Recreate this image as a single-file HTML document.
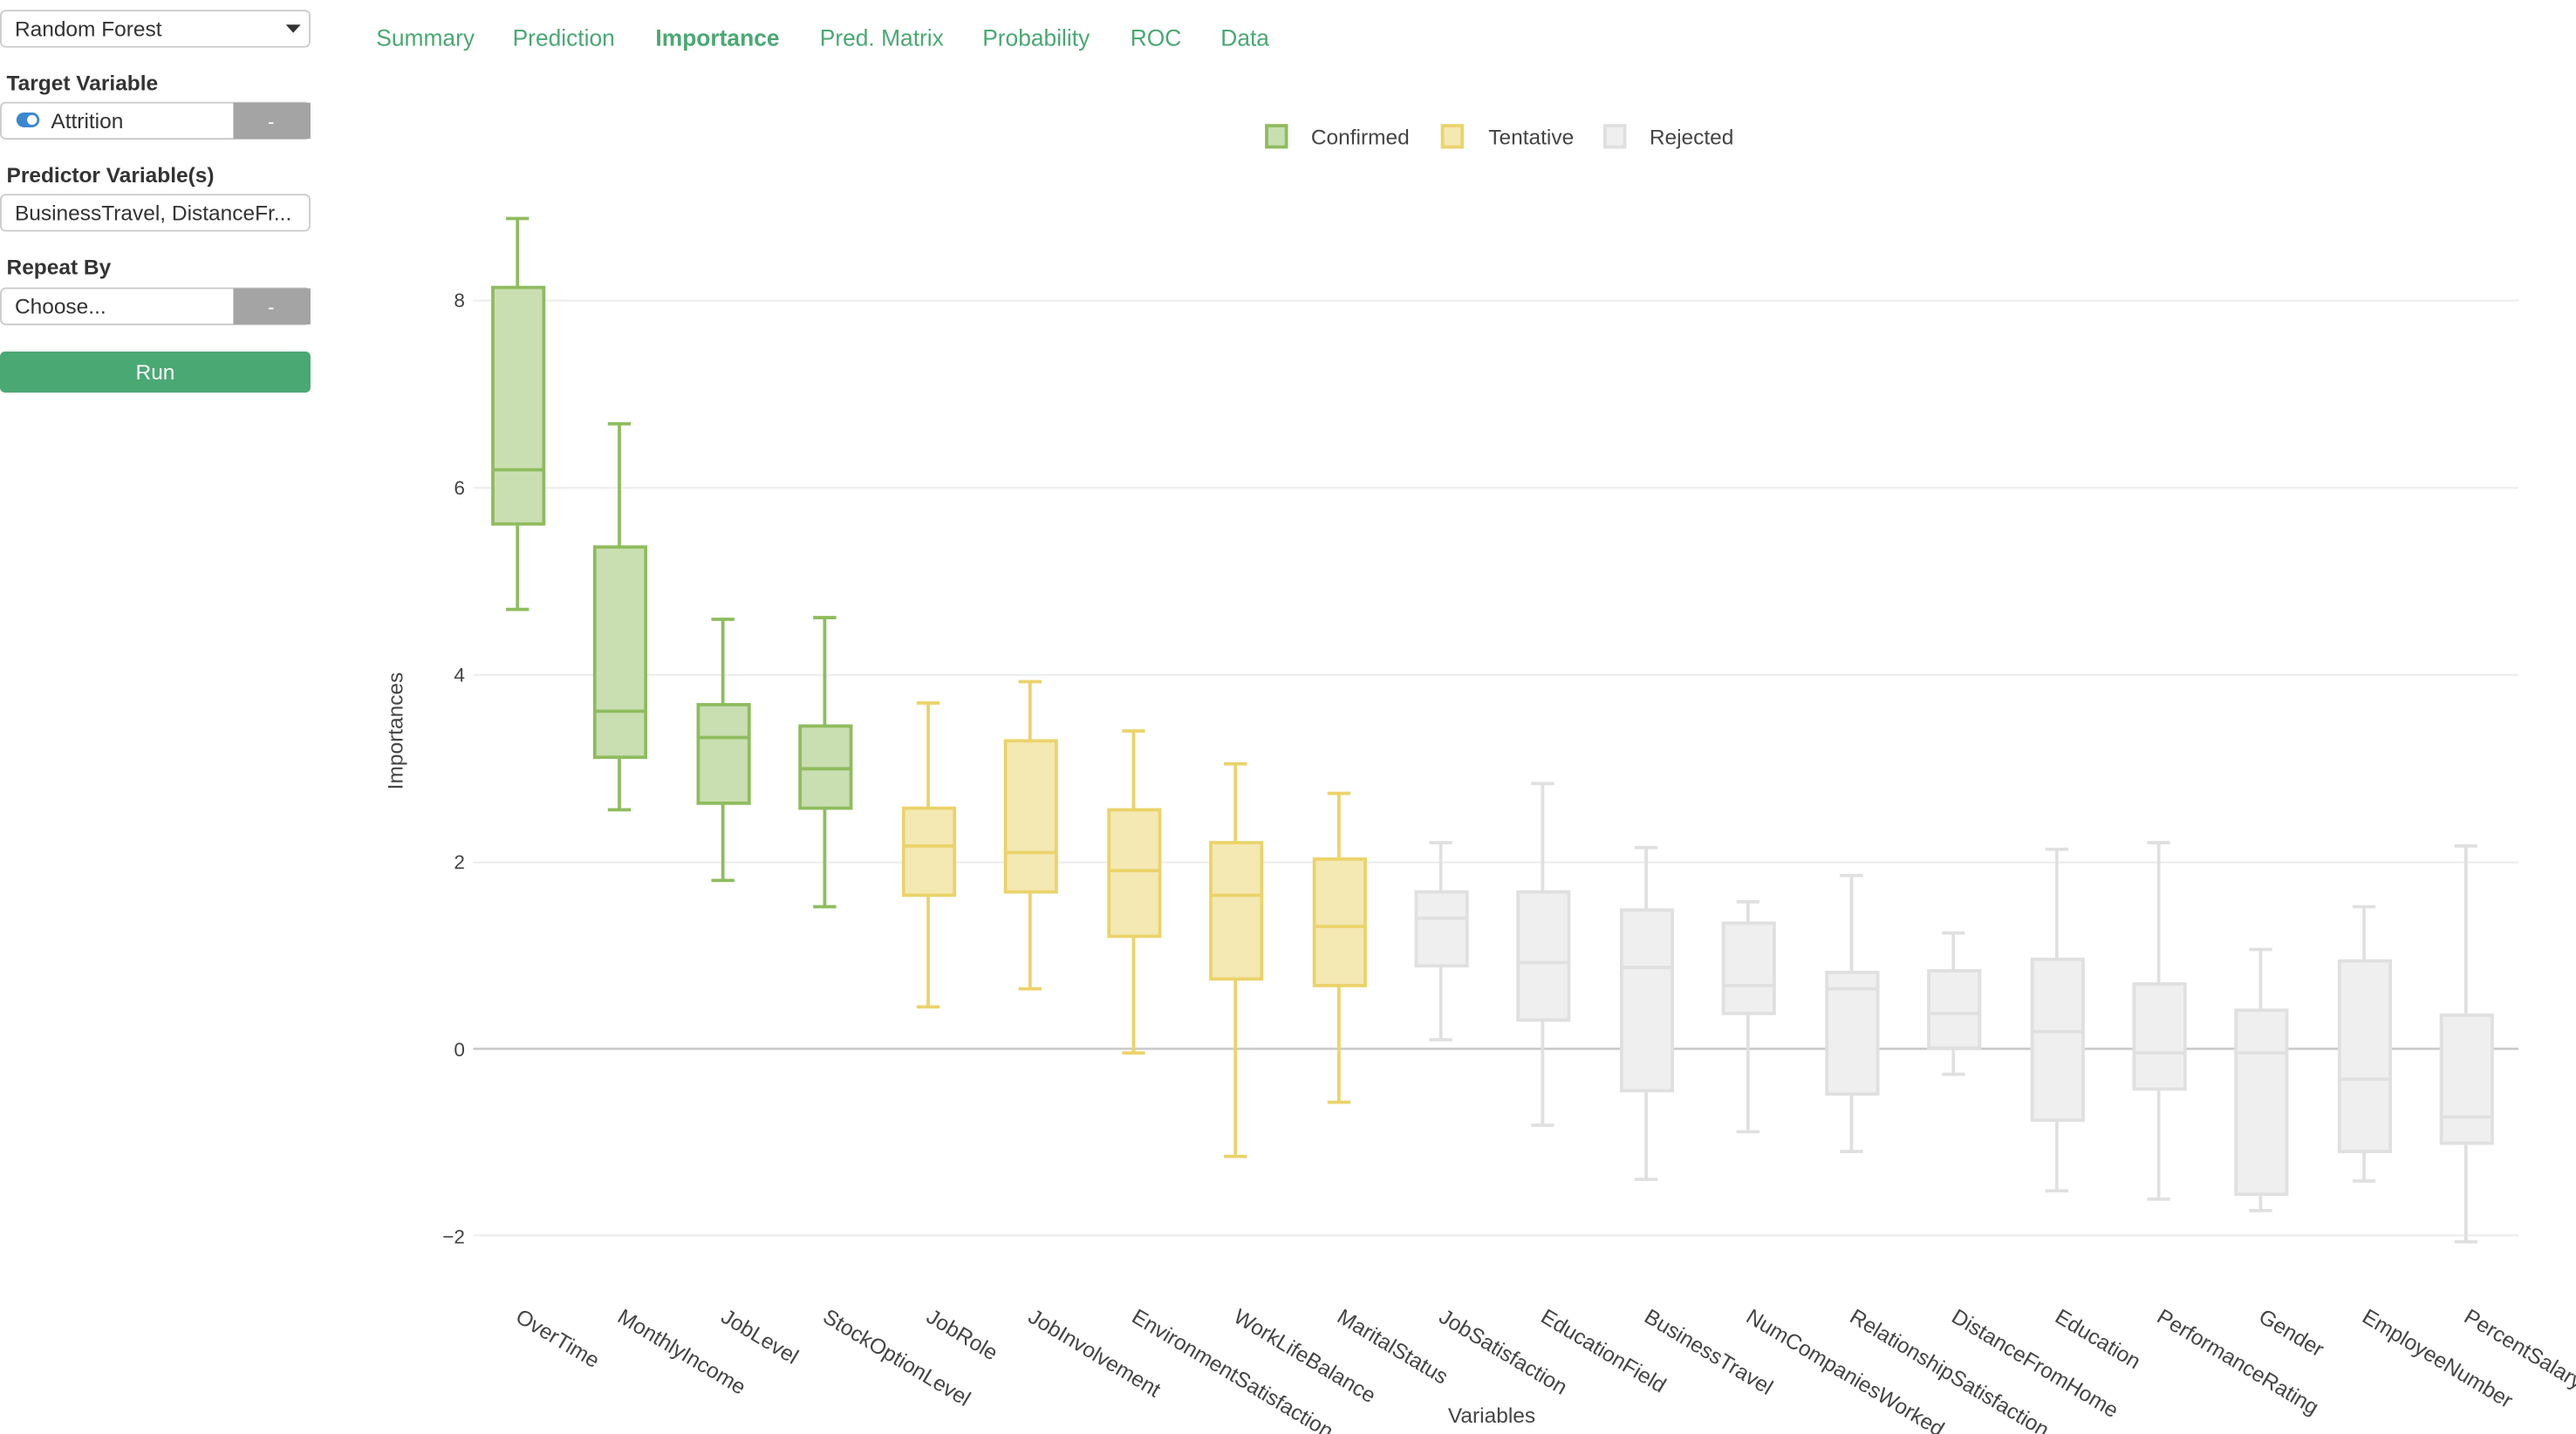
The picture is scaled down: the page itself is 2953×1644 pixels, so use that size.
<!DOCTYPE html>
<html><head><meta charset="utf-8"><style>
html,body{margin:0;padding:0;background:#fff;}
svg{display:block;}
text{font-family:"Liberation Sans",sans-serif;}
</style></head><body>
<svg width="2953" height="1644" viewBox="0 0 1568 873" preserveAspectRatio="none" xmlns="http://www.w3.org/2000/svg">
<!-- sidebar -->
<rect x="0.5" y="6.5" width="188" height="22" rx="3" fill="#fff" stroke="#ccc"/>
<text x="9" y="22" font-size="13" fill="#333">Random Forest</text>
<path d="M174 15 L183 15 L178.5 20 Z" fill="#333"/>
<text x="4" y="55" font-size="13" font-weight="bold" fill="#333">Target Variable</text>
<rect x="0.5" y="62.5" width="188" height="22" rx="3" fill="#fff" stroke="#ccc"/>
<rect x="142" y="62.5" width="47" height="22" fill="#a4a4a4"/>
<text x="165" y="78" font-size="12" fill="#fff" text-anchor="middle">-</text>
<rect x="10" y="68.5" width="14" height="9" rx="4.5" fill="#3b87d0"/>
<circle cx="19.5" cy="73" r="3" fill="#fff"/>
<text x="31" y="78" font-size="13" fill="#333">Attrition</text>
<text x="4" y="111" font-size="13" font-weight="bold" fill="#333">Predictor Variable(s)</text>
<rect x="0.5" y="118.5" width="188" height="22" rx="3" fill="#fff" stroke="#ccc"/>
<text x="9" y="134" font-size="13" fill="#333">BusinessTravel, DistanceFr...</text>
<text x="4" y="167" font-size="13" font-weight="bold" fill="#333">Repeat By</text>
<rect x="0.5" y="175.5" width="188" height="22" rx="3" fill="#fff" stroke="#ccc"/>
<rect x="142" y="175.5" width="47" height="22" fill="#a4a4a4"/>
<text x="165" y="191" font-size="12" fill="#fff" text-anchor="middle">-</text>
<text x="9" y="191" font-size="13" fill="#333">Choose...</text>
<rect x="0" y="214" width="189" height="25" rx="3" fill="#4aa873"/>
<text x="94.5" y="231" font-size="13" fill="#fff" text-anchor="middle">Run</text>
<!-- tabs -->
<g font-size="14" fill="#4aa873">
<text x="229" y="28">Summary</text>
<text x="312" y="28">Prediction</text>
<text x="399" y="28" font-weight="bold">Importance</text>
<text x="499" y="28">Pred. Matrix</text>
<text x="598" y="28">Probability</text>
<text x="688" y="28">ROC</text>
<text x="743" y="28">Data</text>
</g>
<!-- legend -->
<rect x="771" y="76.5" width="12" height="13" fill="#c9dfb2" stroke="#8fbc5e" stroke-width="2"/>
<text x="798" y="88" font-size="13" fill="#444">Confirmed</text>
<rect x="878" y="76.5" width="12" height="13" fill="#f4e8b3" stroke="#ebd36a" stroke-width="2"/>
<text x="906" y="88" font-size="13" fill="#444">Tentative</text>
<rect x="977" y="76.5" width="12" height="13" fill="#efefef" stroke="#e0e0e0" stroke-width="2"/>
<text x="1004" y="88" font-size="13" fill="#444">Rejected</text>
<!-- grid -->
<g stroke="#ebebeb" stroke-width="1">
<line x1="288" y1="183" x2="1533" y2="183"/>
<line x1="288" y1="297" x2="1533" y2="297"/>
<line x1="288" y1="411" x2="1533" y2="411"/>
<line x1="288" y1="525" x2="1533" y2="525"/>
<line x1="288" y1="752" x2="1533" y2="752"/>
</g>
<line x1="288" y1="638.5" x2="1533" y2="638.5" stroke="#ccc" stroke-width="1.5"/>
<g font-size="12" fill="#444" text-anchor="end">
<text x="283" y="187">8</text>
<text x="283" y="301">6</text>
<text x="283" y="415">4</text>
<text x="283" y="529">2</text>
<text x="283" y="643">0</text>
<text x="283" y="757">−2</text>
</g>
<text transform="translate(245,445) rotate(-90)" font-size="13" fill="#444" text-anchor="middle">Importances</text>
<text x="908" y="866" font-size="13" fill="#444" text-anchor="middle">Variables</text>
<!-- boxes -->
<g stroke="#8fbc5e" stroke-width="2" fill="#c9dfb2">
<line x1="315" y1="133" x2="315" y2="371"/><line x1="308" y1="133" x2="322" y2="133"/><line x1="308" y1="371" x2="322" y2="371"/>
<rect x="300" y="175" width="31" height="144"/><line x1="300" y1="286" x2="331" y2="286"/>
<line x1="377" y1="258" x2="377" y2="493"/><line x1="370" y1="258" x2="384" y2="258"/><line x1="370" y1="493" x2="384" y2="493"/>
<rect x="362" y="333" width="31" height="128"/><line x1="362" y1="433" x2="393" y2="433"/>
<line x1="440" y1="377" x2="440" y2="536"/><line x1="433" y1="377" x2="447" y2="377"/><line x1="433" y1="536" x2="447" y2="536"/>
<rect x="425" y="429" width="31" height="60"/><line x1="425" y1="449" x2="456" y2="449"/>
<line x1="502" y1="376" x2="502" y2="552"/><line x1="495" y1="376" x2="509" y2="376"/><line x1="495" y1="552" x2="509" y2="552"/>
<rect x="487" y="442" width="31" height="50"/><line x1="487" y1="468" x2="518" y2="468"/>
</g>
<g stroke="#ebd36a" stroke-width="2" fill="#f4e8b3">
<line x1="565" y1="428" x2="565" y2="613"/><line x1="558" y1="428" x2="572" y2="428"/><line x1="558" y1="613" x2="572" y2="613"/>
<rect x="550" y="492" width="31" height="53"/><line x1="550" y1="515" x2="581" y2="515"/>
<line x1="627" y1="415" x2="627" y2="602"/><line x1="620" y1="415" x2="634" y2="415"/><line x1="620" y1="602" x2="634" y2="602"/>
<rect x="612" y="451" width="31" height="92"/><line x1="612" y1="519" x2="643" y2="519"/>
<line x1="690" y1="445" x2="690" y2="641"/><line x1="683" y1="445" x2="697" y2="445"/><line x1="683" y1="641" x2="697" y2="641"/>
<rect x="675" y="493" width="31" height="77"/><line x1="675" y1="530" x2="706" y2="530"/>
<line x1="752" y1="465" x2="752" y2="704"/><line x1="745" y1="465" x2="759" y2="465"/><line x1="745" y1="704" x2="759" y2="704"/>
<rect x="737" y="513" width="31" height="83"/><line x1="737" y1="545" x2="768" y2="545"/>
<line x1="815" y1="483" x2="815" y2="671"/><line x1="808" y1="483" x2="822" y2="483"/><line x1="808" y1="671" x2="822" y2="671"/>
<rect x="800" y="523" width="31" height="77"/><line x1="800" y1="564" x2="831" y2="564"/>
</g>
<g stroke="#e0e0e0" stroke-width="2" fill="#efefef">
<line x1="877" y1="513" x2="877" y2="633"/><line x1="870" y1="513" x2="884" y2="513"/><line x1="870" y1="633" x2="884" y2="633"/>
<rect x="862" y="543" width="31" height="45"/><line x1="862" y1="559" x2="893" y2="559"/>
<line x1="939" y1="477" x2="939" y2="685"/><line x1="932" y1="477" x2="946" y2="477"/><line x1="932" y1="685" x2="946" y2="685"/>
<rect x="924" y="543" width="31" height="78"/><line x1="924" y1="586" x2="955" y2="586"/>
<line x1="1002" y1="516" x2="1002" y2="718"/><line x1="995" y1="516" x2="1009" y2="516"/><line x1="995" y1="718" x2="1009" y2="718"/>
<rect x="987" y="554" width="31" height="110"/><line x1="987" y1="589" x2="1018" y2="589"/>
<line x1="1064" y1="549" x2="1064" y2="689"/><line x1="1057" y1="549" x2="1071" y2="549"/><line x1="1057" y1="689" x2="1071" y2="689"/>
<rect x="1049" y="562" width="31" height="55"/><line x1="1049" y1="600" x2="1080" y2="600"/>
<line x1="1127" y1="533" x2="1127" y2="701"/><line x1="1120" y1="533" x2="1134" y2="533"/><line x1="1120" y1="701" x2="1134" y2="701"/>
<rect x="1112" y="592" width="31" height="74"/><line x1="1112" y1="602" x2="1143" y2="602"/>
<line x1="1189" y1="568" x2="1189" y2="654"/><line x1="1182" y1="568" x2="1196" y2="568"/><line x1="1182" y1="654" x2="1196" y2="654"/>
<rect x="1174" y="591" width="31" height="47"/><line x1="1174" y1="617" x2="1205" y2="617"/>
<line x1="1252" y1="517" x2="1252" y2="725"/><line x1="1245" y1="517" x2="1259" y2="517"/><line x1="1245" y1="725" x2="1259" y2="725"/>
<rect x="1237" y="584" width="31" height="98"/><line x1="1237" y1="628" x2="1268" y2="628"/>
<line x1="1314" y1="513" x2="1314" y2="730"/><line x1="1307" y1="513" x2="1321" y2="513"/><line x1="1307" y1="730" x2="1321" y2="730"/>
<rect x="1299" y="599" width="31" height="64"/><line x1="1299" y1="641" x2="1330" y2="641"/>
<line x1="1376" y1="578" x2="1376" y2="737"/><line x1="1369" y1="578" x2="1383" y2="578"/><line x1="1369" y1="737" x2="1383" y2="737"/>
<rect x="1361" y="615" width="31" height="112"/><line x1="1361" y1="641" x2="1392" y2="641"/>
<line x1="1439" y1="552" x2="1439" y2="719"/><line x1="1432" y1="552" x2="1446" y2="552"/><line x1="1432" y1="719" x2="1446" y2="719"/>
<rect x="1424" y="585" width="31" height="116"/><line x1="1424" y1="657" x2="1455" y2="657"/>
<line x1="1501" y1="515" x2="1501" y2="756"/><line x1="1494" y1="515" x2="1508" y2="515"/><line x1="1494" y1="756" x2="1508" y2="756"/>
<rect x="1486" y="618" width="31" height="78"/><line x1="1486" y1="680" x2="1517" y2="680"/>
</g>
<!-- x labels -->
<g font-size="13" fill="#444">
<text transform="translate(313,804) rotate(31)">OverTime</text>
<text transform="translate(375,804) rotate(31)">MonthlyIncome</text>
<text transform="translate(438,804) rotate(31)">JobLevel</text>
<text transform="translate(500,804) rotate(31)">StockOptionLevel</text>
<text transform="translate(563,804) rotate(31)">JobRole</text>
<text transform="translate(625,804) rotate(31)">JobInvolvement</text>
<text transform="translate(688,804) rotate(31)">EnvironmentSatisfaction</text>
<text transform="translate(750,804) rotate(31)">WorkLifeBalance</text>
<text transform="translate(813,804) rotate(31)">MaritalStatus</text>
<text transform="translate(875,804) rotate(31)">JobSatisfaction</text>
<text transform="translate(937,804) rotate(31)">EducationField</text>
<text transform="translate(1000,804) rotate(31)">BusinessTravel</text>
<text transform="translate(1062,804) rotate(31)">NumCompaniesWorked</text>
<text transform="translate(1125,804) rotate(31)">RelationshipSatisfaction</text>
<text transform="translate(1187,804) rotate(31)">DistanceFromHome</text>
<text transform="translate(1250,804) rotate(31)">Education</text>
<text transform="translate(1312,804) rotate(31)">PerformanceRating</text>
<text transform="translate(1374,804) rotate(31)">Gender</text>
<text transform="translate(1437,804) rotate(31)">EmployeeNumber</text>
<text transform="translate(1499,804) rotate(31)">PercentSalaryHike</text>
</g>
</svg>
</body></html>
